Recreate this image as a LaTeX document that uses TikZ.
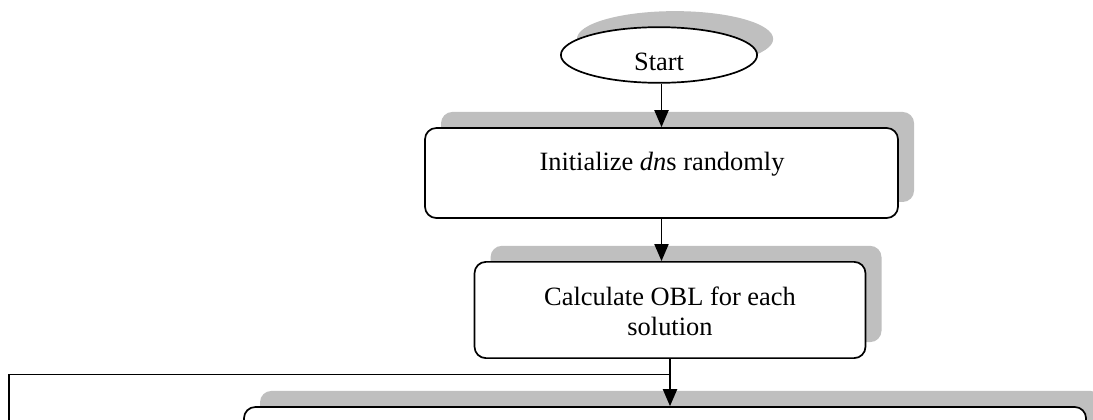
\documentclass[tikz,border=0pt]{standalone}
\usepackage{fontspec}
\setmainfont{Liberation Serif}
\usetikzlibrary{arrows.meta,calc,positioning,shapes.geometric,shadows}

\tikzset{
  gshadow/.style={drop shadow={shadow xshift=8.5pt,shadow yshift=8.5pt,fill=black!25,opacity=1}},
  procbox/.style={draw,line width=0.9pt,rounded corners=6pt,fill=white,gshadow,inner sep=0pt},
  arr/.style={-{Triangle[length=9pt,width=7.5pt]},line width=0.8pt},
}

\begin{document}
\begin{tikzpicture}[x=0.53pt,y=-0.53pt,font=\fontsize{14}{16}\selectfont]
		\useasboundingbox (0,0) rectangle (1093,419);
		\clip (0,0) rectangle (1093,419);
		\node[draw,ellipse,line width=0.9pt,fill=white,gshadow,inner sep=0pt,minimum width=104pt,minimum height=29.5pt] (start) at (659,55) {};
		\node (startt) at (659,62) {Start};
		\node[procbox,minimum width=250.7pt,minimum height=47.7pt] (init) at (661.5,173) {};
		\node (initt) at (662,164) {Initialize \textit{dn}s randomly};
		\node[procbox,minimum width=207.2pt,minimum height=51pt] (calc) at (670,310) {};
		\node[align=center] (calct) at (670,311) {Calculate OBL for each\\solution};
		\node[procbox,minimum width=446.3pt,minimum height=53pt] (body) at (665,457) {};
		\coordinate (join) at ($(calc.south)!0.33!(calc.south |- body.north)$);
		\coordinate (back) at (9,440);
		\draw[arr] (start.south -| init.north) -- (init.north);
		\draw[arr] (init.south) -- (init.south |- calc.north);
		\draw[arr] (calc.south) -- (calc.south |- body.north);
		\draw[line width=0.8pt] (back) |- (join);
\end{tikzpicture}
\end{document}
